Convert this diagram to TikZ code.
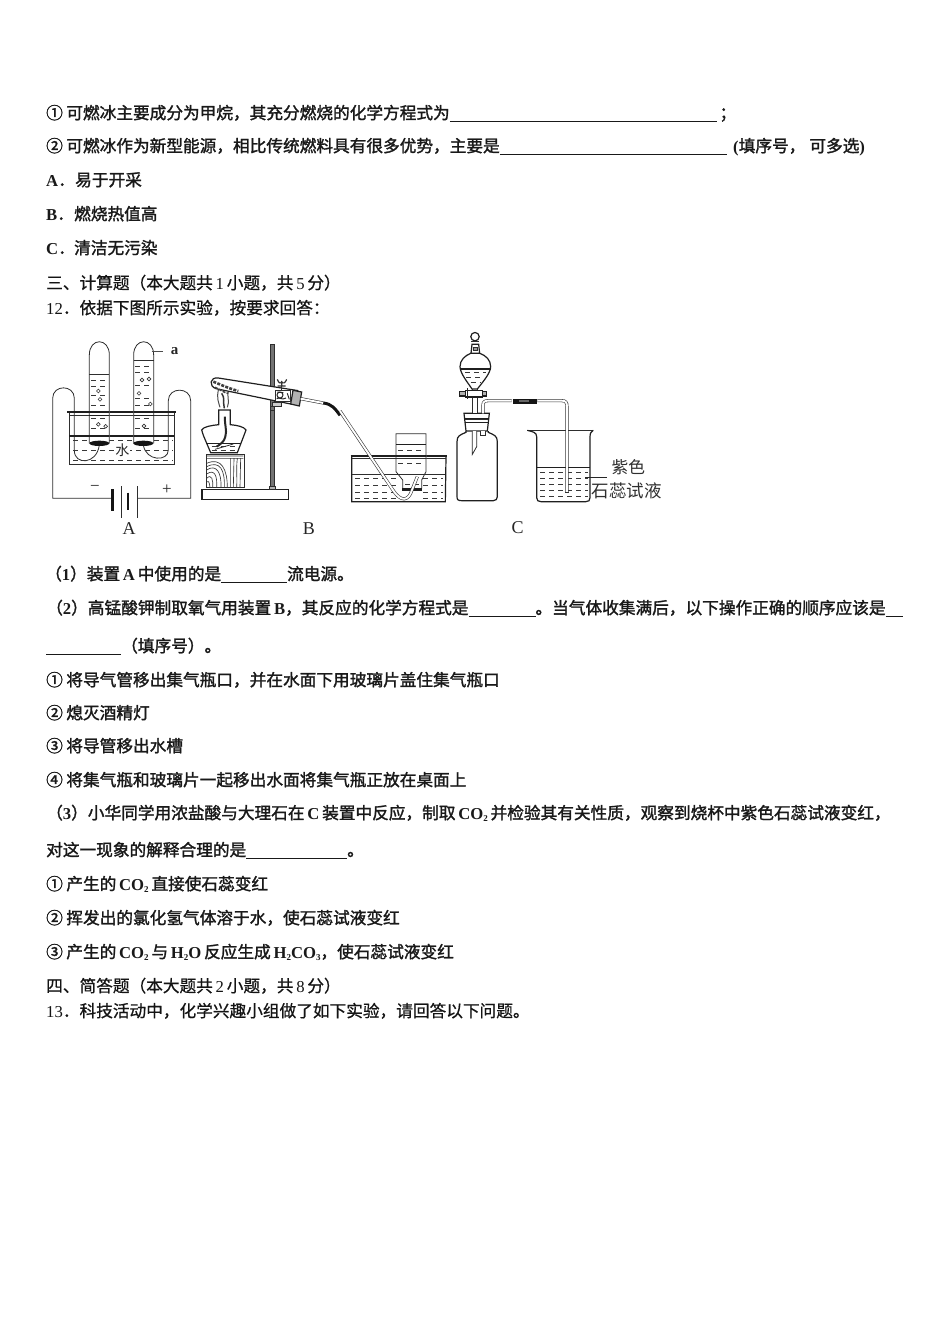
\documentclass[tikz,border=0pt]{standalone}
\usepackage{fontspec}
\setmainfont{Noto Sans CJK SC}[BoldFont={Noto Sans CJK SC},BoldFeatures={FakeBold=1.6}]
\newfontfamily\midf{Noto Sans CJK SC}[FakeBold=0.7]
\newfontfamily\latf{Liberation Serif}
\newcommand{\lat}[1]{{\latf\bfseries #1}}
\newcommand{\latn}[1]{{\latf #1}}
\newcommand{\sbs}[1]{\raisebox{-2pt}{\fontsize{9}{9}\selectfont\latf\bfseries #1}}
\newcommand{\blank}[1]{\rule[-2.5pt]{#1pt}{0.9pt}}
\newcommand{\cg}{\hspace{3.5pt}}
\usetikzlibrary{calc}
\tikzset{
  line/.style={anchor=base west,inner sep=0pt,font=\fontsize{16.67}{18}\selectfont\bfseries,text=black!90},
  head/.style={anchor=base west,inner sep=0pt,font=\fontsize{16.67}{18}\selectfont\midf,text=black!92},
  tag/.style={inner sep=0pt,font=\fontsize{17}{18}\selectfont\latf,text=black!85},
  ink/.style={draw=black!82,line width=0.8pt},
  thick ink/.style={draw=black!88,line width=1.2pt},
  dsh/.style={draw=black!78,line width=0.75pt,dash pattern=on 5pt off 4pt},
  tube/.style={double=white,double distance=1.9pt,draw=black!78,line width=0.6pt},
  z1/.style={shift={(40,330)},x=0.33333pt,y=-0.33333pt},
  z2/.style={shift={(340,325)},x=0.33333pt,y=-0.33333pt},
  bub/.style={draw=black!80,line width=0.6pt,fill=white}
}
\begin{document}
\begin{tikzpicture}[x=1pt,y=-1pt]
\useasboundingbox (0,0) rectangle (950,1344);
\fill[white] (0,0) rectangle (950,1344);
% ---------- text
\node[line] (t1) at (46,119) {①\cg 可燃冰主要成分为甲烷，其充分燃烧的化学方程式为\blank{267}\,；};
\node[line] (t2) at (46,152) {②\cg 可燃冰作为新型能源，相比传统燃料具有很多优势，主要是\blank{227}};
\node[line] (t2b) at (733,152) {\lat{(}填序号，\hspace{4pt}可多选\lat{)}};
\node[line] (ta) at (46,186) {\lat{A}．};
\node[line] (tax) at (75,186) {易于开采};
\node[line] (tb) at (46,220) {\lat{B}．};
\node[line] (tbx) at (74,220) {燃烧热值高};
\node[line] (tc) at (46,254) {\lat{C}．};
\node[line] (tcx) at (74,254) {清洁无污染};
\node[head] (h3) at (46,289) {三、计算题（本大题共\,\latn{1}\,小题，共\,\latn{5}\,分）};
\node[head] (q12) at (46,314) {\latn{12}．依据下图所示实验，按要求回答：};
\node[line] (p1) at (45,580) {（\lat{1}）装置\,\lat{A}\,中使用的是\blank{66}流电源。};
\node[line] (p2) at (46,614) {（\lat{2}）高锰酸钾制取氧气用装置\,\lat{B}，其反应的化学方程式是\blank{67}。当气体收集满后，以下操作正确的顺序应该是\blank{17}};
\node[line] (p2b) at (46,652) {\blank{75}（填序号）。};
\node[line] (s1) at (46,686) {①\cg 将导气管移出集气瓶口，并在水面下用玻璃片盖住集气瓶口};
\node[line] (s2) at (46,719) {②\cg 熄灭酒精灯};
\node[line] (s3) at (46,752) {③\cg 将导管移出水槽};
\node[line] (s4) at (46,786) {④\cg 将集气瓶和玻璃片一起移出水面将集气瓶正放在桌面上};
\node[line] (p3) at (46,819) {（\lat{3}）小华同学用浓盐酸与大理石在\,\lat{C}\,装置中反应，制取\,\lat{CO}\sbs{2}\,并检验其有关性质，观察到烧杯中紫色石蕊试液变红，};
\node[line] (p3b) at (46,856) {对这一现象的解释合理的是\blank{101}。};
\node[line] (e1) at (46,890) {①\cg 产生的\,\lat{CO}\sbs{2}\,直接使石蕊变红};
\node[line] (e2) at (46,924) {②\cg 挥发出的氯化氢气体溶于水，使石蕊试液变红};
\node[line] (e3) at (46,958) {③\cg 产生的\,\lat{CO}\sbs{2}\,与\,\lat{H}\sbs{2}\lat{O}\,反应生成\,\lat{H}\sbs{2}\lat{CO}\sbs{3}，使石蕊试液变红};
\node[head] (h4) at (46,992) {四、简答题（本大题共\,\latn{2}\,小题，共\,\latn{8}\,分）};
\node[head] (q13) at (46,1017) {\latn{13}．科技活动中，化学兴趣小组做了如下实验，请回答以下问题。};

% ---------- apparatus A
\begin{scope}[z1]
 % wires
 \draw[ink] (215,505) -- (38,505) -- (38,205) .. controls (38,163) and (103,163) .. (103,205) -- (103,362) .. controls (103,405) and (170,405) .. (178,345);
 \draw[ink] (292,505) -- (452,505) -- (452,212) .. controls (452,170) and (385,170) .. (385,212) -- (385,360) .. controls (385,395) and (318,395) .. (310,345);
 % trough
 \draw[ink] (88,250) -- (88,402) -- (403,402) -- (403,250);
 \draw[thick ink] (82,246) -- (408,246);
 \draw[ink] (88,257) -- (403,257);
 \draw[thick ink] (88,318) -- (403,318);
 \foreach \yy in {332,362,390} \draw[dsh] (100,\yy) -- (398,\yy);
 % tubes
 \draw[ink,fill=white] (148,340) -- (148,75) .. controls (148,22) and (208,22) .. (208,75) -- (208,340);
 \draw[ink,fill=white] (281,340) -- (281,75) .. controls (281,22) and (341,22) .. (341,75) -- (341,340);
 \draw[ink] (148,133) -- (208,133);
 \draw[ink] (281,92) -- (341,92);
 \foreach \yy in {150,170,195,225,265,295} \draw[dsh] (153,\yy) -- (205,\yy);
 \foreach \yy in {108,128,165,205,225,265,295} \draw[dsh] (286,\yy) -- (338,\yy);
 \draw[ink] (148,243) -- (208,243) (281,243) -- (341,243);
 \draw[thick ink] (148,246) -- (208,246) (148,257) -- (208,257) (281,246) -- (341,246) (281,257) -- (341,257) (148,318) -- (208,318) (281,318) -- (341,318);
 % bubbles
 \foreach \xx/\yy in {175/183,180/208,175/283,197/289,306/150,327/147,297/190,331/222,312/288}
   \draw[bub] (\xx,\yy) circle (1.9pt);
 % electrodes
 \fill[black!92] (178,340) ellipse [x radius=30,y radius=8];
 \fill[black!92] (310,340) ellipse [x radius=30,y radius=8];
 \node[fill=white,inner sep=0.5pt,font=\fontsize{14}{14}\selectfont,text=black!85] (water) at (247,362) {水};
 % label a
 \coordinate (aline) at (335,65);
 \node[tag,font=\fontsize{15}{15}\selectfont\latf\bfseries] (la) at (404,62) {a};
 \draw[draw=black!70,line width=0.7pt] (aline) -- (368,65);
 % battery
 \draw[draw=black!92,line width=2.4pt] (218,478) -- (218,542);
 \draw[draw=black!92,line width=2.4pt] (264,488) -- (264,540);
 \draw[ink] (243,468) -- (243,565);
 \draw[ink] (292,468) -- (292,565);
 \node[tag] (minus) at (165,474) {−};
 \node[tag] (plus) at (381,480) {+};
 \node[tag,font=\fontsize{18}{18}\selectfont\latf] (lA) at (267,597) {A};
 \node[tag,font=\fontsize{18}{18}\selectfont\latf] (lB) at (807,597) {B};
 % ---------- apparatus B
 % base + rod
 \draw[thick ink,fill=white] (486,478) -- (745,478) -- (745,508) -- (486,508) -- cycle;
 \draw[ink,fill=black!55] (691,42) -- (703,42) -- (703,468) -- (691,468) -- cycle;
 \draw[ink,fill=black!30] (688,468) rectangle (707,478);
 % wood block
 \draw[ink,fill=white] (498,372) rectangle (612,472);
 \draw[draw=black!78,line width=0.65pt]
   (500,385) -- (610,385) (500,378) -- (610,378)
   (500,400) .. controls (545,380) and (562,420) .. (562,472)
   (500,410) .. controls (540,390) and (555,420) .. (553,472)
   (500,420) .. controls (530,400) and (545,430) .. (543,472)
   (500,432) .. controls (525,415) and (532,440) .. (530,472)
   (500,445) .. controls (515,430) and (520,450) .. (518,472)
   (510,472) .. controls (508,455) and (505,450) .. (500,455)
   (572,385) -- (572,472) (582,385) -- (580,472) (592,385) .. controls (588,420) and (592,440) .. (590,472)
   (602,385) -- (600,472);
 % lamp
 \draw[thick ink,fill=white] (485,300) .. controls (490,290) and (515,286) .. (536,284) -- (536,240) -- (571,240) -- (571,284) .. controls (592,286) and (612,290) .. (618,300) -- (612,316) -- (592,368) -- (512,368) -- (490,316) -- cycle;
 \draw[thick ink] (500,340) -- (603,340);
 \foreach \yy in {350,360} \draw[dsh] (515,\yy) -- (592,\yy);
 \draw[draw=black!85,line width=2pt] (555,260) .. controls (553,285) and (562,300) .. (556,320) .. controls (552,335) and (545,340) .. (530,350);
 \draw[ink] (525,358) -- (580,342);
 % flame + scribble
 \draw[draw=black!80,line width=1.5pt] (553,235) .. controls (548,215) and (556,205) .. (545,190);
 \draw[draw=black!70,line width=1pt] (540,232) .. controls (535,215) and (530,205) .. (535,180);
 \draw[draw=black!70,line width=1pt] (562,232) .. controls (570,215) and (560,195) .. (565,182);
 % test tube
 \draw[thick ink,fill=white] (775,182) -- (535,144) .. controls (510,140) and (505,168) .. (528,176) -- (752,222);
 \draw[draw=black!75,line width=2.6pt,dash pattern=on 3pt off 1.3pt] (520,155) .. controls (545,165) and (565,175) .. (595,183);
 \draw[draw=black!75,line width=1.6pt,dash pattern=on 3pt off 1.3pt] (525,172) .. controls (540,178) and (555,190) .. (565,190);
 % stopper
 \draw[thick ink,fill=black!30] (759,181) -- (785,186) -- (778,228) -- (752,222) -- cycle;
 % clamp
 \draw[ink,fill=white] (706,182) rectangle (752,214);
 \draw[draw=black!85,line width=1pt] (712,186) -- (730,188) (710,206) .. controls (720,200) and (725,212) .. (738,204) (742,190) -- (748,208) (720,195) circle (3pt);
 \draw[ink,fill=black!20] (696,218) rectangle (724,228);
 \draw[draw=black!80,line width=1.2pt] (725,168) -- (725,155) (712,148) .. controls (716,160) and (722,162) .. (725,155) .. controls (728,162) and (736,160) .. (740,148) (713,168) -- (737,168);
 \draw[ink] (725,168) -- (725,182);
 % rod over tube below clamp
 \draw[ink,fill=black!55] (691,228) -- (703,228) -- (703,240) -- (691,240) -- cycle;
 % outgoing tube and rubber
 \draw[tube] (782,206) -- (850,219);
 \coordinate (rub) at (850,219);
 \draw[draw=black!92,line width=3pt] (rub) .. controls (875,222) and (885,235) .. (900,256);
\end{scope}

% ---------- collecting
\begin{scope}[z2]
 % trough
 \draw[thick ink] (35,395) -- (35,530) -- (316,530) -- (318,395);
 \draw[thick ink] (32,393) -- (322,393);
 \draw[ink] (35,400) -- (318,400);
 \draw[ink] (35,447) -- (168,447) (258,447) -- (316,447);
 \foreach \yy in {460,482,503,520} {\draw[dsh] (45,\yy) -- (170,\yy); \draw[dsh] (250,\yy) -- (310,\yy);}
 % gas jar
 \draw[ink,fill=white] (188,490) -- (188,465) -- (168,440) -- (168,326) -- (258,326) -- (258,440) -- (245,465) -- (245,490);
 \draw[thick ink] (168,358) -- (258,358);
 \draw[thick ink] (168,393) -- (258,393);
 \draw[ink] (168,400) -- (258,400);
 \foreach \yy in {375,415} \draw[dsh] (175,\yy) -- (250,\yy);
 \draw[dsh] (195,478) -- (240,478);
 \draw[ink] (168,447) -- (258,447);
 \fill[black!88] (186,488) rectangle (247,497);
 % delivery tube
 \coordinate (tin) at (0,258);
 \draw[tube] (tin) -- (160,497) .. controls (182,530) and (205,530) .. (216,495) -- (232,455);
 % ---------- apparatus C
 % bottle
 \draw[thick ink,fill=white] (378,318) -- (378,322) .. controls (360,330) and (351,332) .. (351,350) -- (351,515) .. controls (351,525) and (355,527) .. (365,527) -- (460,527) .. controls (468,527) and (472,522) .. (472,515) -- (472,350) .. controls (472,332) and (462,330) .. (445,322) -- (445,318);
 % stopper
 \draw[thick ink,fill=white] (372,265) -- (448,265) -- (442,318) -- (378,318) -- cycle;
 \draw[thick ink] (374,280) -- (446,280);
 \draw[thick ink] (375,292) -- (445,292);
 \draw[ink] (376,284) -- (444,284);
 % tubes in bottle
 \draw[ink,fill=white] (397,318) -- (397,388) -- (410,365) -- (410,318);
 \draw[ink,fill=white] (422,318) -- (422,332) -- (436,332) -- (436,318);
 % funnel
 \draw[ink,fill=white] (398,265) -- (398,190) -- (412,190) -- (412,265);
 \draw[thick ink,fill=white] (392,85) .. controls (375,92) and (360,105) .. (360,125) .. controls (360,145) and (385,175) .. (396,192) -- (412,192) .. controls (425,175) and (452,145) .. (452,125) .. controls (452,105) and (438,92) .. (420,85) -- cycle;
 \draw[thick ink] (362,132) -- (450,132);
 \foreach \yy/\xa/\xb in {143/375/438,158/378/432,172/392/420} \draw[dsh] (\xa,\yy) -- (\xb,\yy);
 % stopper & ball
 \draw[thick ink,fill=white] (393,85) -- (396,58) -- (416,58) -- (419,85) -- cycle;
 \draw[ink,fill=black!40] (400,68) rectangle (412,76);
 \draw[thick ink,fill=white] (405,35) circle (4.2pt);
 \draw[ink] (393,50) -- (417,50);
 % stopcock
 \draw[thick ink,fill=white] (376,197) rectangle (428,216);
 \draw[thick ink,fill=black!30] (358,200) rectangle (376,213);
 \draw[thick ink,fill=black!30] (428,200) rectangle (440,213);
 \draw[draw=black!85,line width=1.6pt] (383,190) -- (383,222);
 % delivery to beaker
 \draw[tube] (429,265) -- (429,240) .. controls (429,230) and (435,227) .. (445,227) -- (515,227);
 \coordinate (rubA) at (518,229);
 \coordinate (rubB) at (592,229);
 \draw[draw=black!92,line width=5pt] (rubA) -- (rubB);
 \draw[draw=black!60,line width=2pt] (538,229) -- (568,229);
 % beaker
 \draw[ink] (562,316) -- (760,316);
 \draw[thick ink] (562,316) .. controls (578,320) and (590,322) .. (590,335) -- (590,518) .. controls (590,527) and (595,530) .. (603,530) -- (737,530) .. controls (746,530) and (750,527) .. (750,518) -- (750,335) .. controls (750,322) and (755,320) .. (760,316);
 \draw[thick ink] (592,428) -- (750,428);
 \foreach \yy in {443,460,477,497,515} \draw[dsh] (600,\yy) -- (745,\yy);
 \draw[tube] (592,227) -- (665,227) .. controls (677,227) and (681,232) .. (681,245) -- (681,503);
 \draw[ink] (676,503) -- (686,503);
 % label
 \coordinate (lline) at (735,458);
 \node[inner sep=0pt,font=\fontsize{16.67}{18}\selectfont,text=black!82] (zise) at (865,426) {紫色};
 \node[inner sep=0pt,font=\fontsize{17.5}{18}\selectfont,text=black!82] (shirui) at (860,497) {石蕊试液};
 \draw[draw=black!85,line width=0.8pt] (lline) -- (800,458);
 \node[tag,font=\fontsize{18}{18}\selectfont\latf] (lC) at (533,607) {C};
\end{scope}
\end{tikzpicture}
\end{document}
